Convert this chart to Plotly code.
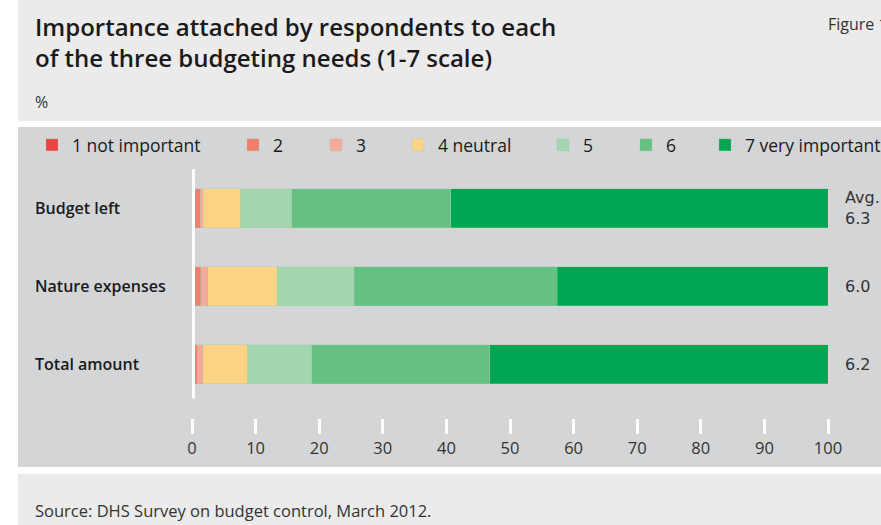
import plotly.graph_objects as go

# Survey results: share of respondents (%) giving each score on the 1-7 scale
categories = ["Budget left", "Nature expenses", "Total amount"]
score_labels = ["1 not important", "2", "3", "4 neutral", "5", "6", "7 very important"]
score_colors = ["#ef4243", "#f47c6c", "#f8a999", "#fed383", "#a3d5ae", "#66c084", "#00a651"]
shares = [
    [0.5, 0.5, 0.5],     # 1 not important
    [0.8, 0.9, 0.3],     # 2
    [0.5, 1.1, 0.9],     # 3
    [5.9, 10.9, 7.1],    # 4 neutral
    [8.0, 12.1, 10.0],   # 5
    [25.0, 31.9, 28.0],  # 6
    [59.3, 42.6, 53.2],  # 7 very important
]
averages = [6.3, 6.0, 6.2]
x_ticks = [0, 10, 20, 30, 40, 50, 60, 70, 80, 90, 100]

W, H = 881, 525
PL, PR, PT, PB = 192, 828, 169, 418  # plot-area edges in pixels

# left edge (px) of each legend entry in the key row
legend_left = [32, 233, 316, 398, 543, 626, 705]
LEGEND_Y = 145


def px_x(px):
    return (px - PL) / (PR - PL)


def px_y(py):
    return (PB - py) / (PB - PT)


fig = go.Figure()
for i, (label, color, vals) in enumerate(zip(score_labels, score_colors, shares)):
    fig.add_trace(go.Bar(
        y=categories, x=vals, name=label, orientation="h",
        marker=dict(color=color, line=dict(color="rgba(150,205,165,0.55)", width=0.6)),
        legend="legend" if i == 0 else f"legend{i + 1}",
        hoverinfo="x+name",
    ))

shapes = [
    # header, chart and footer panels
    dict(type="rect", xref="paper", yref="paper", x0=px_x(18), x1=px_x(W), y0=px_y(121), y1=px_y(0),
         fillcolor="#ebebeb", line=dict(width=0), layer="below"),
    dict(type="rect", xref="paper", yref="paper", x0=px_x(18), x1=px_x(W), y0=px_y(467), y1=px_y(127),
         fillcolor="#d4d5d7", line=dict(width=0), layer="below"),
    dict(type="rect", xref="paper", yref="paper", x0=px_x(18), x1=px_x(W), y0=px_y(H), y1=px_y(474),
         fillcolor="#ebebeb", line=dict(width=0), layer="below"),
    # white baseline at zero
    dict(type="line", xref="x", yref="y", x0=0, x1=0, y0=-0.5, y1=2.44,
         line=dict(color="white", width=6), layer="above"),
]

annotations = [
    dict(text="Importance attached by respondents to each<br>of the three budgeting needs (1-7 scale)",
         xref="paper", yref="paper", x=px_x(33), y=px_y(8), xanchor="left", yanchor="top",
         align="left", showarrow=False,
         font=dict(family="Open Sans", size=24, color="#1a1a1a", weight=600)),
    dict(text="%", xref="paper", yref="paper", x=px_x(33), y=px_y(102), xanchor="left", yanchor="middle",
         showarrow=False, font=dict(family="Open Sans", size=16, color="#333333")),
    dict(text="Figure 1", xref="paper", yref="paper", x=px_x(826), y=px_y(24), xanchor="left",
         yanchor="middle", showarrow=False, font=dict(family="Open Sans", size=16, color="#333333")),
    dict(text="Source: DHS Survey on budget control, March 2012.", xref="paper", yref="paper",
         x=px_x(33), y=px_y(510), xanchor="left", yanchor="middle", showarrow=False,
         font=dict(family="Open Sans", size=16.5, color="#333333")),
]

for i, (cat, avg) in enumerate(zip(categories, averages)):
    annotations.append(dict(
        text=cat, xref="paper", yref="y", x=px_x(33), y=cat, xanchor="left", yanchor="middle",
        showarrow=False, font=dict(family="Open Sans", size=16, color="#1a1a1a", weight=600)))
    label = f"Avg.<br>{avg:.1f}" if i == 0 else f"{avg:.1f}"
    annotations.append(dict(
        text=label, xref="paper", yref="y", x=px_x(843), y=cat, xanchor="left", yanchor="middle",
        align="left", showarrow=False, font=dict(family="DejaVu Sans", size=16, color="#333333")))

legends = {}
for i, left in enumerate(legend_left):
    key = "legend" if i == 0 else f"legend{i + 1}"
    legends[key] = dict(orientation="h", x=px_x(left), y=px_y(LEGEND_Y), xanchor="left", yanchor="middle",
                        bgcolor="rgba(0,0,0,0)",
                        font=dict(family="Open Sans", size=17.5, color="#1a1a1a"))

fig.update_layout(
    width=W, height=H,
    margin=dict(l=PL, r=W - PR, t=PT, b=H - PB, pad=0, autoexpand=False),
    paper_bgcolor="white", plot_bgcolor="rgba(0,0,0,0)",
    barmode="stack", bargap=0.5,
    showlegend=True,
    xaxis=dict(range=[0, 100], tickvals=x_ticks, ticktext=[str(t) for t in x_ticks],
               showgrid=False, zeroline=False, showline=False,
               ticks="outside", ticklen=15, tickwidth=3, tickcolor="white",
               tickfont=dict(family="Open Sans", size=16.5, color="#333333"), fixedrange=True),
    yaxis=dict(categoryorder="array", categoryarray=categories, range=[2.69, -0.5],
               showticklabels=False, showgrid=False, zeroline=False, showline=False, fixedrange=True),
    shapes=shapes,
    annotations=annotations,
    **legends,
)

fig.write_html("out.html")
